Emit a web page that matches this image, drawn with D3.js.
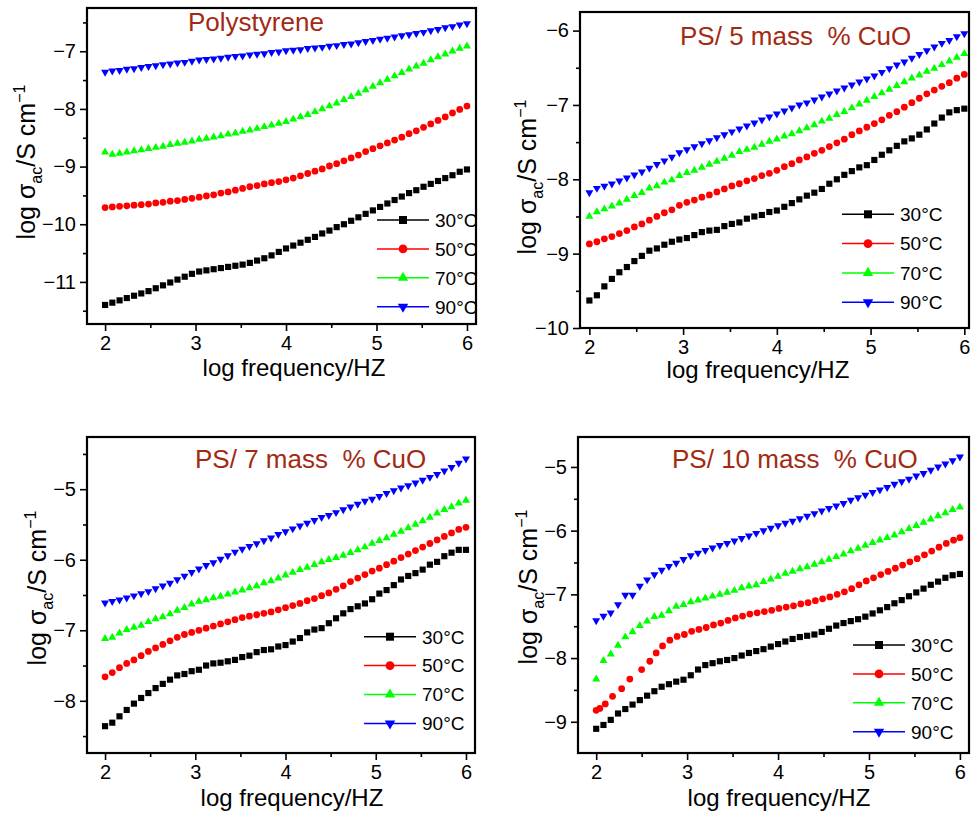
<!DOCTYPE html>
<html>
<head>
<meta charset="utf-8">
<script src="https://cdn.jsdelivr.net/npm/d3@7"></script>
<style>
  body { margin: 0; background: #fff; }
  svg { font-family: "Liberation Sans", Arial, Helvetica, sans-serif; }
</style>
</head>
<body>
<svg id="chart"></svg>
<script>
// log frequency grid shared by most series
const logFreq = [2.00, 2.08, 2.16, 2.24, 2.32, 2.40, 2.48, 2.56, 2.64, 2.72, 2.80, 2.88, 2.96,
  3.04, 3.12, 3.20, 3.28, 3.36, 3.44, 3.52, 3.60, 3.68, 3.76, 3.84, 3.92, 4.00, 4.08, 4.16,
  4.24, 4.32, 4.40, 4.48, 4.56, 4.64, 4.72, 4.80, 4.88, 4.96, 5.04, 5.12, 5.20, 5.28, 5.36,
  5.44, 5.52, 5.60, 5.68, 5.76, 5.84, 5.92, 6.00];
// the 50 °C run of the 10 % sample was sampled differently at low frequency
const logFreqRed10 = [2.00, 2.04, 2.10, 2.18, 2.28, 2.37, 2.50, 2.59, 2.66, 2.73, 2.81, 2.89, 2.97,
  3.05, 3.13, 3.21, 3.29, 3.37, 3.45, 3.53, 3.61, 3.69, 3.77, 3.85, 3.93, 4.01, 4.09, 4.17,
  4.25, 4.33, 4.41, 4.49, 4.57, 4.65, 4.73, 4.81, 4.89, 4.97, 5.05, 5.13, 5.21, 5.29, 5.37,
  5.45, 5.53, 5.61, 5.69, 5.77, 5.85, 5.93, 6.00];

const temps = ["30°C", "50°C", "70°C", "90°C"];
const titles = ["Polystyrene", "PS/ 5 mass  % CuO", "PS/ 7 mass  % CuO", "PS/ 10 mass  % CuO"];
const xTicks = [2, 3, 4, 5, 6];

// Polystyrene
const ps0T30 = [-11.40, -11.36, -11.32, -11.28, -11.24, -11.20, -11.16, -11.11, -11.06, -11.01, -10.96, -10.91, -10.86,
  -10.82, -10.80, -10.78, -10.76, -10.74, -10.72, -10.70, -10.67, -10.63, -10.59, -10.54, -10.48, -10.42, -10.37, -10.32,
  -10.27, -10.22, -10.16, -10.11, -10.05, -10.00, -9.94, -9.88, -9.82, -9.76, -9.70, -9.64, -9.58, -9.52, -9.46,
  -9.41, -9.35, -9.30, -9.25, -9.20, -9.15, -9.09, -9.05];
const ps0T50 = [-9.71, -9.70, -9.69, -9.68, -9.67, -9.66, -9.65, -9.63, -9.62, -9.60, -9.59, -9.57, -9.55,
  -9.53, -9.51, -9.49, -9.46, -9.44, -9.41, -9.38, -9.35, -9.33, -9.30, -9.28, -9.26, -9.23, -9.20, -9.16,
  -9.12, -9.08, -9.04, -8.99, -8.95, -8.90, -8.85, -8.80, -8.74, -8.69, -8.64, -8.59, -8.54, -8.49, -8.43,
  -8.38, -8.32, -8.26, -8.20, -8.14, -8.07, -8.01, -7.95];
const ps0T70 = [-8.75, -8.79, -8.77, -8.75, -8.73, -8.71, -8.69, -8.67, -8.65, -8.62, -8.60, -8.58, -8.56,
  -8.53, -8.51, -8.49, -8.47, -8.44, -8.42, -8.39, -8.37, -8.34, -8.31, -8.28, -8.25, -8.22, -8.18, -8.14,
  -8.10, -8.05, -8.00, -7.95, -7.90, -7.84, -7.79, -7.73, -7.67, -7.61, -7.55, -7.49, -7.43, -7.37, -7.31,
  -7.26, -7.21, -7.15, -7.10, -7.05, -7.00, -6.95, -6.91];
const ps0T90 = [-7.36, -7.34, -7.33, -7.31, -7.30, -7.28, -7.26, -7.25, -7.23, -7.22, -7.20, -7.19, -7.17,
  -7.15, -7.14, -7.13, -7.12, -7.10, -7.09, -7.08, -7.06, -7.05, -7.04, -7.02, -7.01, -6.99, -6.98, -6.97,
  -6.95, -6.94, -6.93, -6.91, -6.90, -6.88, -6.87, -6.85, -6.83, -6.81, -6.79, -6.77, -6.75, -6.73, -6.71,
  -6.69, -6.67, -6.64, -6.62, -6.59, -6.57, -6.54, -6.52];

// PS / 5 mass % CuO
const ps5T30 = [-9.63, -9.56, -9.44, -9.34, -9.25, -9.18, -9.10, -9.03, -8.96, -8.93, -8.88, -8.84, -8.81,
  -8.79, -8.75, -8.71, -8.69, -8.68, -8.63, -8.60, -8.58, -8.53, -8.50, -8.48, -8.44, -8.42, -8.37, -8.32,
  -8.27, -8.22, -8.18, -8.13, -8.06, -8.00, -7.94, -7.89, -7.84, -7.81, -7.74, -7.67, -7.61, -7.55, -7.49,
  -7.45, -7.40, -7.33, -7.25, -7.17, -7.10, -7.07, -7.05];
const ps5T50 = [-8.87, -8.84, -8.80, -8.77, -8.73, -8.69, -8.64, -8.60, -8.55, -8.50, -8.45, -8.41, -8.35,
  -8.31, -8.28, -8.24, -8.21, -8.17, -8.13, -8.09, -8.06, -8.02, -7.99, -7.95, -7.92, -7.88, -7.83, -7.79,
  -7.74, -7.70, -7.65, -7.61, -7.56, -7.51, -7.46, -7.40, -7.35, -7.30, -7.25, -7.20, -7.14, -7.09, -7.03,
  -6.97, -6.91, -6.85, -6.80, -6.75, -6.70, -6.64, -6.59];
const ps5T70 = [-8.50, -8.44, -8.40, -8.36, -8.32, -8.27, -8.22, -8.18, -8.12, -8.09, -8.04, -8.01, -7.95,
  -7.91, -7.88, -7.84, -7.80, -7.76, -7.72, -7.68, -7.63, -7.60, -7.57, -7.53, -7.49, -7.46, -7.42, -7.39,
  -7.35, -7.31, -7.27, -7.22, -7.18, -7.13, -7.09, -7.04, -6.99, -6.94, -6.89, -6.84, -6.79, -6.74, -6.69,
  -6.64, -6.60, -6.55, -6.51, -6.46, -6.41, -6.36, -6.31];
const ps5T90 = [-8.18, -8.12, -8.09, -8.06, -8.02, -7.98, -7.94, -7.90, -7.85, -7.80, -7.75, -7.70, -7.64,
  -7.60, -7.56, -7.52, -7.48, -7.44, -7.40, -7.36, -7.32, -7.28, -7.24, -7.20, -7.16, -7.12, -7.08, -7.04,
  -7.00, -6.97, -6.93, -6.89, -6.85, -6.81, -6.77, -6.73, -6.69, -6.65, -6.61, -6.56, -6.51, -6.46, -6.42,
  -6.37, -6.32, -6.27, -6.22, -6.17, -6.13, -6.08, -6.04];

// PS / 7 mass % CuO
const ps7T30 = [-8.36, -8.31, -8.22, -8.13, -8.04, -7.96, -7.89, -7.82, -7.76, -7.70, -7.64, -7.62, -7.58,
  -7.56, -7.50, -7.47, -7.46, -7.44, -7.42, -7.38, -7.36, -7.31, -7.28, -7.27, -7.23, -7.21, -7.16, -7.11,
  -7.03, -6.99, -6.97, -6.90, -6.83, -6.76, -6.70, -6.66, -6.62, -6.56, -6.48, -6.43, -6.36, -6.28, -6.23,
  -6.19, -6.14, -6.07, -6.03, -5.95, -5.90, -5.86, -5.86];
const ps7T50 = [-7.66, -7.60, -7.53, -7.47, -7.42, -7.36, -7.30, -7.25, -7.20, -7.15, -7.10, -7.06, -7.03,
  -7.00, -6.97, -6.94, -6.91, -6.88, -6.85, -6.82, -6.80, -6.78, -6.76, -6.74, -6.71, -6.68, -6.65, -6.62,
  -6.58, -6.55, -6.51, -6.47, -6.42, -6.37, -6.31, -6.26, -6.21, -6.16, -6.12, -6.07, -6.02, -5.97, -5.92,
  -5.87, -5.82, -5.77, -5.72, -5.67, -5.62, -5.57, -5.54];
const ps7T70 = [-7.12, -7.10, -7.04, -6.99, -6.96, -6.93, -6.88, -6.84, -6.81, -6.77, -6.72, -6.68, -6.63,
  -6.59, -6.57, -6.54, -6.52, -6.49, -6.46, -6.43, -6.40, -6.37, -6.33, -6.30, -6.26, -6.22, -6.18, -6.14,
  -6.11, -6.07, -6.03, -6.00, -5.97, -5.94, -5.90, -5.86, -5.82, -5.77, -5.73, -5.69, -5.64, -5.60, -5.55,
  -5.50, -5.45, -5.40, -5.34, -5.29, -5.25, -5.20, -5.16];
const ps7T90 = [-6.61, -6.59, -6.57, -6.54, -6.51, -6.48, -6.45, -6.41, -6.37, -6.33, -6.28, -6.23, -6.18,
  -6.13, -6.08, -6.04, -5.99, -5.94, -5.89, -5.85, -5.81, -5.77, -5.73, -5.69, -5.64, -5.60, -5.56, -5.52,
  -5.48, -5.44, -5.40, -5.37, -5.33, -5.29, -5.25, -5.21, -5.17, -5.14, -5.10, -5.06, -5.02, -4.98, -4.95,
  -4.91, -4.87, -4.83, -4.79, -4.74, -4.69, -4.63, -4.57];

// PS / 10 mass % CuO
const ps10T30 = [-9.11, -9.05, -8.97, -8.87, -8.80, -8.73, -8.66, -8.59, -8.52, -8.45, -8.41, -8.37, -8.34,
  -8.27, -8.18, -8.11, -8.08, -8.05, -8.03, -8.00, -7.96, -7.92, -7.89, -7.86, -7.82, -7.78, -7.74, -7.70,
  -7.67, -7.65, -7.63, -7.59, -7.54, -7.49, -7.45, -7.42, -7.39, -7.35, -7.30, -7.25, -7.20, -7.14, -7.09,
  -7.03, -6.97, -6.91, -6.85, -6.80, -6.74, -6.70, -6.68];
const ps10T50 = [-8.82, -8.79, -8.72, -8.60, -8.48, -8.33, -8.18, -8.05, -7.92, -7.81, -7.72, -7.66, -7.63,
  -7.58, -7.55, -7.52, -7.48, -7.45, -7.41, -7.37, -7.34, -7.31, -7.29, -7.27, -7.25, -7.22, -7.20, -7.18,
  -7.15, -7.13, -7.10, -7.07, -7.04, -7.00, -6.96, -6.91, -6.85, -6.79, -6.74, -6.69, -6.64, -6.59, -6.54,
  -6.49, -6.44, -6.38, -6.32, -6.26, -6.20, -6.15, -6.11];
const ps10T70 = [-8.33, -8.04, -7.94, -7.80, -7.67, -7.59, -7.49, -7.42, -7.35, -7.33, -7.26, -7.19, -7.16,
  -7.12, -7.09, -7.06, -7.03, -7.00, -6.97, -6.94, -6.90, -6.87, -6.85, -6.80, -6.76, -6.72, -6.67, -6.64,
  -6.60, -6.57, -6.53, -6.49, -6.45, -6.41, -6.37, -6.32, -6.28, -6.23, -6.19, -6.15, -6.11, -6.07, -6.02,
  -5.97, -5.92, -5.87, -5.82, -5.77, -5.72, -5.67, -5.63];
const ps10T90 = [-7.41, -7.34, -7.29, -7.16, -7.01, -7.01, -6.87, -6.77, -6.69, -6.62, -6.56, -6.51, -6.45,
  -6.39, -6.35, -6.31, -6.27, -6.23, -6.20, -6.16, -6.12, -6.08, -6.04, -6.00, -5.96, -5.92, -5.88, -5.85,
  -5.81, -5.77, -5.73, -5.69, -5.65, -5.61, -5.57, -5.52, -5.48, -5.44, -5.40, -5.36, -5.32, -5.27, -5.23,
  -5.19, -5.14, -5.10, -5.05, -5.00, -4.95, -4.90, -4.84];

const colors = ["#000000", "#ff0000", "#00ff00", "#0000ff"];
const shapes = ["square", "circle", "up", "down"];

// panel layout (pixel frame + axis ranges)
const panels = [
  { title: titles[0], series: [ps0T30, ps0T50, ps0T70, ps0T90], xs: [logFreq, logFreq, logFreq, logFreq],
    left: 87, top: 8, right: 476, bottom: 324, xDom: [1.8, 6.1], yDom: [-11.73, -6.25],
    yTicks: [-11, -10, -9, -8, -7], yMinor: [-11.5, -10.5, -9.5, -8.5, -7.5, -6.5],
    titleX: 188, titleY: 31, yLabX: 35, yLabY: 162, xLabX: 294, xLabY: 376,
    legX: 377, legY: 220, legDy: 28.9 },
  { title: titles[1], series: [ps5T30, ps5T50, ps5T70, ps5T90], xs: [logFreq, logFreq, logFreq, logFreq],
    left: 580, top: 12, right: 969, bottom: 328, xDom: [1.9, 6.05], yDom: [-10, -5.75],
    yTicks: [-10, -9, -8, -7, -6], yMinor: [-9.5, -8.5, -7.5, -6.5],
    titleX: 680, titleY: 45, yLabX: 536, yLabY: 177, xLabX: 758, xLabY: 378,
    legX: 842, legY: 214.3, legDy: 29.3 },
  { title: titles[2], series: [ps7T30, ps7T50, ps7T70, ps7T90], xs: [logFreq, logFreq, logFreq, logFreq],
    left: 87, top: 437, right: 475, bottom: 753, xDom: [1.8, 6.1], yDom: [-8.74, -4.26],
    yTicks: [-8, -7, -6, -5], yMinor: [-8.5, -7.5, -6.5, -5.5, -4.5],
    titleX: 195, titleY: 468, yLabX: 46, yLabY: 588, xLabX: 292, xLabY: 806,
    legX: 364, legY: 636.7, legDy: 28.9 },
  { title: titles[3], series: [ps10T30, ps10T50, ps10T70, ps10T90], xs: [logFreq, logFreqRed10, logFreq, logFreq],
    left: 578, top: 437, right: 969, bottom: 753, xDom: [1.8, 6.1], yDom: [-9.49, -4.53],
    yTicks: [-9, -8, -7, -6, -5], yMinor: [-9.5, -8.5, -7.5, -6.5, -5.5],
    titleX: 672, titleY: 468, yLabX: 537, yLabY: 587, xLabX: 779, xLabY: 806,
    legX: 853, legY: 645, legDy: 28.9 }
];

const svg = d3.select("#chart")
    .attr("width", 977)
    .attr("height", 817);

svg.append("rect").attr("width", 977).attr("height", 817).attr("fill", "#fff");

function markerPath(shape, scale) {
  let k = scale || 1;
  switch (shape) {
    case "square": return d3.symbol(d3.symbolSquare, 38 * k * k)();
    case "circle": return d3.symbol(d3.symbolCircle, 36 * k * k)();
    default: return d3.symbol(d3.symbolTriangle, 28 * k * k)();
  }
}

panels.forEach(p => {
  let x = d3.scaleLinear().domain(p.xDom).range([p.left, p.right]);
  let y = d3.scaleLinear().domain(p.yDom).range([p.bottom, p.top]);
  let g = svg.append("g");

  // major / minor ticks
  let xAxis = d3.axisBottom(x).tickValues(xTicks).tickSize(7).tickPadding(5).tickFormat(d3.format("d"));
  let xMinor = d3.axisBottom(x).tickValues([2.5, 3.5, 4.5, 5.5]).tickSize(4).tickFormat("");
  let yAxis = d3.axisLeft(y).tickValues(p.yTicks).tickSize(7).tickPadding(4).tickFormat(d3.format("d"));
  let yMinor = d3.axisLeft(y).tickValues(p.yMinor.filter(v => v > p.yDom[0] && v < p.yDom[1]))
      .tickSize(4).tickFormat("");

  [[xAxis, "x"], [xMinor, "x"], [yAxis, "y"], [yMinor, "y"]].forEach(([ax, k]) => {
    let ag = g.append("g")
        .attr("transform", k === "x" ? `translate(0,${p.bottom})` : `translate(${p.left},0)`)
        .call(ax);
    ag.select(".domain").remove();
    ag.selectAll(".tick line").attr("stroke", "#000").attr("stroke-width", 1.6);
    ag.selectAll(".tick text")
        .attr("fill", "#000")
        .style("font-size", "20px")
        .style("font-family", "'Liberation Sans', Arial, sans-serif");
  });

  // data markers
  p.series.forEach((vals, si) => {
    let pts = vals.map((v, i) => ({ x: p.xs[si][i], y: v }));
    g.append("g").selectAll("path")
      .data(pts)
      .join("path")
        .attr("d", markerPath(shapes[si]))
        .attr("transform", d => `translate(${x(d.x)},${y(d.y)})` + (shapes[si] === "down" ? " rotate(180)" : ""))
        .attr("fill", colors[si]);
  });

  // frame
  g.append("rect")
      .attr("x", p.left).attr("y", p.top)
      .attr("width", p.right - p.left).attr("height", p.bottom - p.top)
      .attr("fill", "none").attr("stroke", "#000").attr("stroke-width", 2.2);

  // title
  g.append("text")
      .attr("x", p.titleX).attr("y", p.titleY)
      .style("white-space", "pre")
      .style("font-size", "26px")
      .attr("fill", "#a32a12")
      .text(p.title);

  // axis titles
  g.append("text")
      .attr("x", p.xLabX).attr("y", p.xLabY)
      .attr("text-anchor", "middle")
      .style("font-size", "24px")
      .text("log frequency/HZ");

  let yl = g.append("text")
      .attr("transform", `translate(${p.yLabX},${p.yLabY}) rotate(-90)`)
      .attr("text-anchor", "middle")
      .style("font-size", "25px");
  yl.append("tspan").text("log σ");
  yl.append("tspan").attr("dy", 7).style("font-size", "16px").text("ac");
  yl.append("tspan").attr("dy", -7).text("/S cm");
  yl.append("tspan").attr("dy", -10).style("font-size", "16px").text("−1");

  // legend
  temps.forEach((t, i) => {
    let ly = p.legY + i * p.legDy;
    g.append("line")
        .attr("x1", p.legX).attr("x2", p.legX + 52)
        .attr("y1", ly).attr("y2", ly)
        .attr("stroke", colors[i]).attr("stroke-width", 1.5);
    g.append("path")
        .attr("d", markerPath(shapes[i], 1.3))
        .attr("transform", `translate(${p.legX + 26},${ly})` + (shapes[i] === "down" ? " rotate(180)" : ""))
        .attr("fill", colors[i]);
    g.append("text")
        .attr("x", p.legX + 58).attr("y", ly)
        .attr("dy", "0.36em")
        .style("font-size", "19px")
        .text(t);
  });
});
</script>
</body>
</html>
